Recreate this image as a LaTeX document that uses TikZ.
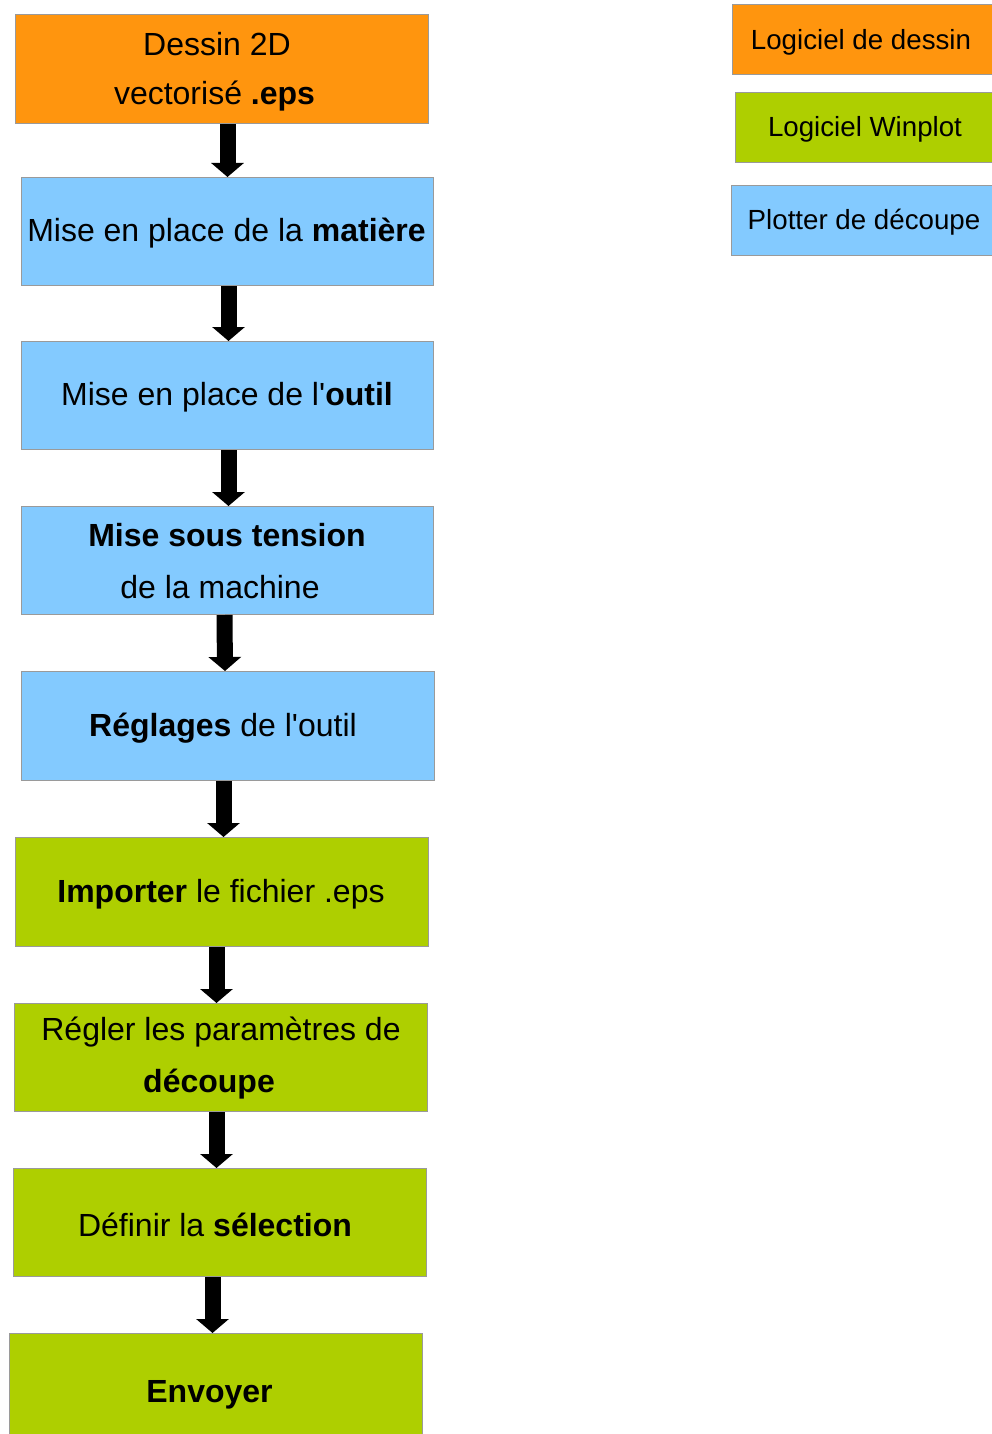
\documentclass[tikz,border=0pt]{standalone}
\usepackage{fontspec}
\setmainfont{Liberation Sans}[Ligatures=TeXOff]
\usetikzlibrary{arrows.meta}
\definecolor{cOrange}{HTML}{FF950E}
\definecolor{cBlue}{HTML}{83CAFF}
\definecolor{cGreen}{HTML}{AECF00}
\definecolor{cBorder}{HTML}{9A9A9A}
\tikzset{
  box/.style={draw=cBorder, line width=1pt, rectangle, anchor=north west, inner sep=0pt},
  txt/.style={inner sep=0pt, font=\fontsize{32}{38}\selectfont},
  ltxt/.style={inner sep=0pt, font=\fontsize{27.7}{33}\selectfont},
  arr/.style={line width=16pt, -{Triangle[width=32pt,length=14pt]}, black}
}
\begin{document}
\begin{tikzpicture}[x=1pt,y=-1pt]
\useasboundingbox (0,0) rectangle (992,1434);
\clip (0,0) rectangle (992,1434);
% flow boxes
\node[box, fill=cOrange, minimum width=413pt, minimum height=109pt] (b1) at (15,14) {};
\node[box, fill=cBlue, minimum width=412pt, minimum height=108pt] (b2) at (21,177) {};
\node[box, fill=cBlue, minimum width=412pt, minimum height=108pt] (b3) at (21,341) {};
\node[box, fill=cBlue, minimum width=412pt, minimum height=108pt] (b4) at (21,506) {};
\node[box, fill=cBlue, minimum width=413pt, minimum height=109pt] (b5) at (21,671) {};
\node[box, fill=cGreen, minimum width=413pt, minimum height=109pt] (b6) at (15,837) {};
\node[box, fill=cGreen, minimum width=413pt, minimum height=108pt] (b7) at (14,1003) {};
\node[box, fill=cGreen, minimum width=413pt, minimum height=108pt] (b8) at (13,1168) {};
\node[box, fill=cGreen, minimum width=413pt, minimum height=120pt] (b9) at (9,1333) {};
% flow texts
\node[txt] (t1a) at (217,44) {Dessin 2D};
\node[txt] (t1b) at (214.5,96) {vectorisé \textbf{.eps}};
\node[txt] (t2) at (226.5,233) {Mise en place de la \textbf{matière}};
\node[txt] (t3) at (227,397) {Mise en place de l'\textbf{outil}};
\node[txt] (t4a) at (227,535) {\textbf{Mise sous tension}};
\node[txt] (t4b) at (220,587) {de la machine};
\node[txt] (t5) at (223,728) {\textbf{Réglages} de l'outil};
\node[txt] (t6) at (221,894) {\textbf{Importer} le fichier .eps};
\node[txt] (t7a) at (221,1032) {Régler les paramètres de};
\node[txt] (t7b) at (209,1084) {\textbf{découpe}};
\node[txt] (t8) at (215,1225) {Définir la \textbf{sélection}};
\node[txt] (t9) at (209.5,1395) {\textbf{Envoyer}};
% legend
\node[box, fill=cOrange, minimum width=262pt, minimum height=70pt] (l1) at (732,4) {};
\node[box, fill=cGreen, minimum width=259pt, minimum height=70pt] (l2) at (735,92) {};
\node[box, fill=cBlue, minimum width=263pt, minimum height=70pt] (l3) at (731,185) {};
\node[ltxt] (lt1) at (861,42) {Logiciel de dessin};
\node[ltxt] (lt2) at (865,129) {Logiciel Winplot};
\node[ltxt] (lt3) at (864,222) {Plotter de découpe};
% arrows
\draw[arr] ([xshift=5.5pt]b1.south) -- ([xshift=0pt]b2.north);
\draw[arr] ([xshift=1pt]b2.south) -- ([xshift=1pt]b3.north);
\draw[arr] ([xshift=1pt]b3.south) -- ([xshift=1pt]b4.north);
\draw[arr] ([xshift=-3pt]b4.south) -- ([xshift=-3pt]b5.north);
\draw[arr] ([xshift=-4.5pt]b5.south) -- ([xshift=1.5pt]b6.north);
\draw[arr] ([xshift=-5.5pt]b6.south) -- ([xshift=-4.5pt]b7.north);
\draw[arr] ([xshift=-4.5pt]b7.south) -- ([xshift=-3.5pt]b8.north);
\draw[arr] ([xshift=-7.5pt]b8.south) -- ([xshift=-3.5pt]b9.north);
\end{tikzpicture}
\end{document}
